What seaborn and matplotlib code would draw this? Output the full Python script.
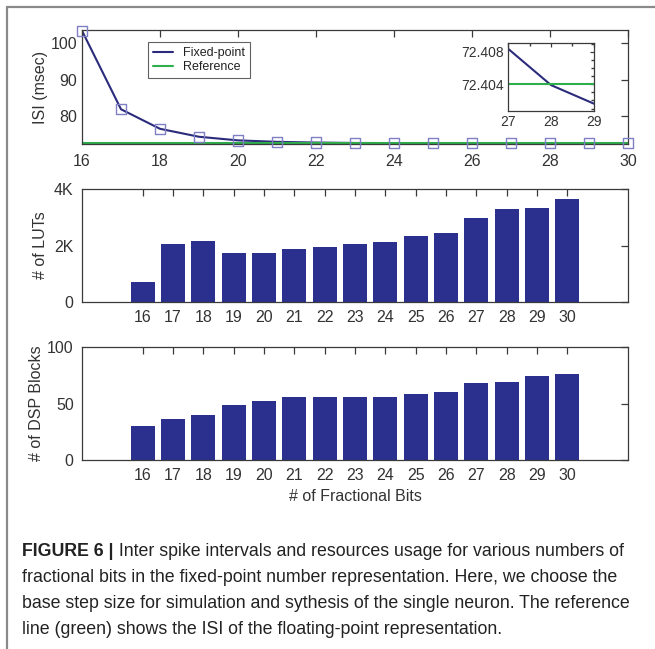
import pandas as pd
import seaborn as sns
import matplotlib.pyplot as plt
from matplotlib.lines import Line2D
from matplotlib.ticker import AutoMinorLocator, FuncFormatter

# values
bits = list(range(16, 31))
isi_fixed = [103.5, 81.8, 76.4, 74.2, 73.2, 72.8, 72.6, 72.48, 72.44,
             72.42, 72.413, 72.4084, 72.4039, 72.4016, 72.4005]
isi_reference = 72.404
luts = [710, 2070, 2150, 1750, 1750, 1870, 1950, 2045, 2130,
        2330, 2450, 2960, 3280, 3320, 3640]
dsp_blocks = [30, 36, 40, 49, 52, 56, 56, 56, 56, 58, 60, 68, 69, 74, 76]
inset_bits = [27, 28, 29]

caption_bold = "FIGURE 6 |"
caption_lines = [
    " Inter spike intervals and resources usage for various numbers of",
    "fractional bits in the fixed-point number representation. Here, we choose the",
    "base step size for simulation and sythesis of the single neuron. The reference",
    "line (green) shows the ISI of the floating-point representation.",
]

LINE_COL = "#2b2b7c"
MARK_COL = "#7f7fc4"
REF_COL = "#2fae4c"
BAR_COL = "#2b2f8e"
AX_COL = "#3a3a3a"
TXT_COL = "#333333"

df = pd.DataFrame({"bits": bits, "isi": isi_fixed, "luts": luts, "dsp": dsp_blocks})
df["ref"] = isi_reference

sns.set_theme(style="white")
plt.rcParams["font.family"] = ["Liberation Sans", "DejaVu Sans"]
plt.rcParams.update({
    "axes.edgecolor": AX_COL, "axes.linewidth": 0.9,
    "xtick.color": AX_COL, "ytick.color": AX_COL,
    "xtick.labelcolor": TXT_COL, "ytick.labelcolor": TXT_COL,
    "xtick.direction": "in", "ytick.direction": "in",
    "xtick.major.size": 5, "ytick.major.size": 5,
    "xtick.minor.size": 2.5, "ytick.minor.size": 2.5,
    "xtick.top": True, "ytick.right": True,
    "xtick.major.width": 0.9, "ytick.major.width": 0.9,
})

fig = plt.figure(figsize=(6.55, 6.49), dpi=100)
W, H = 655, 649


def px_axes(left, top, right, bottom):
    return fig.add_axes([left / W, 1 - bottom / H, (right - left) / W, (bottom - top) / H])


# ---- top panel: ISI
ax1 = px_axes(82, 30, 628, 144)
sns.lineplot(data=df, x="bits", y="isi", ax=ax1, color=LINE_COL, lw=1.5, label="Fixed-point")
sns.lineplot(data=df, x="bits", y="ref", ax=ax1, color=REF_COL, lw=1.5, label="Reference")
sns.scatterplot(data=df, x="bits", y="isi", ax=ax1, marker="s", s=55,
                facecolor="none", edgecolor=MARK_COL, linewidth=1.0, zorder=4,
                clip_on=False)
ax1.set_xlim(16, 30)
ax1.set_ylim(72.2, 103.7)
ax1.set_xticks(range(16, 31, 2))
ax1.set_yticks([80, 90, 100])
ax1.tick_params(labelsize=11.5)
ax1.tick_params(axis="x", pad=7)
ax1.set_xlabel("")
ax1.set_ylabel("ISI (msec)", fontsize=11.5, color=TXT_COL, labelpad=2)
leg = ax1.legend(loc="upper left", bbox_to_anchor=(0.11, 0.95), fontsize=9,
                 frameon=True, fancybox=False, edgecolor=AX_COL, handlelength=1.6,
                 borderpad=0.4, labelspacing=0.2)
leg.get_frame().set_linewidth(0.8)
for t in leg.get_texts():
    t.set_color("#222222")

# inset
axi = px_axes(508, 43, 594, 111)
sub = df[df["bits"].isin(inset_bits)]
sns.lineplot(data=sub, x="bits", y="isi", ax=axi, color=LINE_COL, lw=1.5)
sns.lineplot(data=sub, x="bits", y="ref", ax=axi, color=REF_COL, lw=1.5)
axi.set_xlim(27, 29)
axi.set_ylim(72.4007, 72.4091)
axi.set_xticks(inset_bits)
axi.set_yticks([72.404, 72.408])
axi.yaxis.set_major_formatter(FuncFormatter(lambda v, _: f"{v:.3f}"))
axi.xaxis.set_minor_locator(AutoMinorLocator(2))
axi.yaxis.set_minor_locator(AutoMinorLocator(4))
axi.tick_params(which="both", top=True, right=True)
axi.tick_params(labelsize=10, pad=3, length=3)
axi.tick_params(which="minor", length=2)
axi.set_xlabel("")
axi.set_ylabel("")

# ---- middle panel: LUTs
ax2 = px_axes(82, 189, 628, 302)
sns.barplot(data=df, x="bits", y="luts", ax=ax2, native_scale=True, color=BAR_COL,
            saturation=1, width=0.8, edgecolor="none")
ax2.set_xlim(14, 32)
ax2.set_ylim(0, 4000)
ax2.set_xticks(bits)
ax2.set_yticks([0, 2000, 4000])
ax2.yaxis.set_major_formatter(FuncFormatter(lambda v, _: "0" if v == 0 else f"{int(v / 1000)}K"))
ax2.tick_params(labelsize=11.5, pad=6)
ax2.set_xlabel("")
ax2.set_ylabel("# of LUTs", fontsize=11.5, color=TXT_COL, labelpad=4)

# ---- bottom panel: DSP blocks
ax3 = px_axes(82, 347, 628, 460)
sns.barplot(data=df, x="bits", y="dsp", ax=ax3, native_scale=True, color=BAR_COL,
            saturation=1, width=0.8, edgecolor="none")
ax3.set_xlim(14, 32)
ax3.set_ylim(0, 100)
ax3.set_xticks(bits)
ax3.set_yticks([0, 50, 100])
ax3.tick_params(labelsize=11.5, pad=6)
ax3.set_xlabel("# of Fractional Bits", fontsize=11.5, color=TXT_COL, labelpad=4)
ax3.set_ylabel("# of DSP Blocks", fontsize=11.5, color=TXT_COL, labelpad=2)

# ---- frame around the figure
fig.add_artist(Line2D([7 / W, 1], [1 - 7 / H, 1 - 7 / H], transform=fig.transFigure,
                      color="#8a8a8a", lw=1.6))
fig.add_artist(Line2D([7 / W, 7 / W], [0, 1 - 7 / H], transform=fig.transFigure,
                      color="#8a8a8a", lw=1.6))

# ---- caption
cap_font = ["Liberation Sans Narrow", "Liberation Sans", "DejaVu Sans"]
cap_size = 12.8
bold = fig.text(22 / W, 1 - 551 / H, caption_bold, fontsize=cap_size, fontweight="bold",
                va="center", ha="left", family=cap_font, color="#222222")
plt.annotate(caption_lines[0], xy=(1, 0.5), xycoords=bold, va="center", ha="left",
             fontsize=cap_size, family=cap_font, color="#222222")
for i, line in enumerate(caption_lines[1:], start=1):
    fig.text(22 / W, 1 - (551 + 26 * i) / H, line, fontsize=cap_size, family=cap_font,
             color="#222222", va="center", ha="left")

fig.savefig("out.png", dpi=100)
